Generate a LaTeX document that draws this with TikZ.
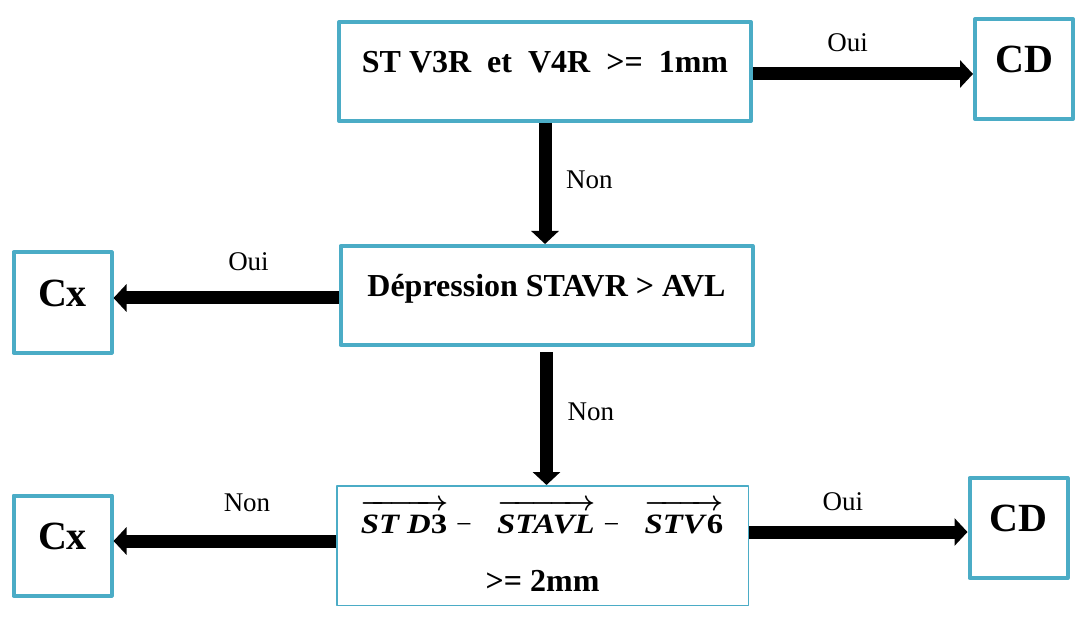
\RequirePackage{fix-cm}
\documentclass[tikz,border=0pt]{standalone}
\usepackage{amsmath}
\usepackage{fontspec}
\setmainfont{Liberation Serif}
\newfontfamily\vecfont[FakeStretch=1.17]{Liberation Serif}
\usetikzlibrary{arrows.meta, positioning}
\definecolor{boxblue}{RGB}{75, 172, 198}
\newcommand{\stvec}[1]{\vbox{\boldmath\offinterlineskip\halign{##\cr
    \rightarrowfill\cr\noalign{\kern4pt}
    \hbox{\vecfont\bfseries\itshape #1\kern1pt}\cr}}}

\begin{document}
\begin{tikzpicture}[x=1pt, y=-1pt,
    box/.style={rectangle, draw=boxblue, line width=4pt, line join=round,
                align=center, inner sep=0pt},
    qbox/.style={box, minimum width=412pt, minimum height=99pt, text height=21pt,
                 text depth=19pt, font=\fontsize{32}{38}\selectfont\bfseries},
    endbox/.style={box, minimum width=98pt, minimum height=100pt, text height=26.5pt,
                   text depth=19pt, font=\fontsize{40}{48}\selectfont\bfseries},
    flow/.style={line width=13pt, -{Triangle[width=27pt, length=13pt]}},
    lbl/.style={inner sep=0pt, outer sep=0pt, font=\fontsize{27}{32}\selectfont}]
    \useasboundingbox (0,0) rectangle (1086,617);

    \node[qbox] (st) at (545, 71.5) {ST V3R~ et~ V4R~ >=~ 1mm};
    \node[qbox] (dep) at (546.5, 295.5) {Dépression STAVR > AVL};
    \node[box, line width=1.5pt, minimum width=411.5pt, minimum height=119.5pt,
          font=\fontsize{28}{58}\selectfont] (cond) at (542.5, 545.5)
        {\stvec{ST D\textup{3}}\hspace{8pt}−\hspace{25pt}\stvec{STAVL}\hspace{8pt}−\hspace{25pt}\stvec{STV\textup{6}}\\
         {\fontsize{32}{58}\selectfont\bfseries >= 2mm}};

    \node[endbox] (cd1) at (1024, 69) {CD};
    \node[endbox] (cx1) at (62.5, 302.5) {Cx};
    \node[endbox] (cx2) at (62.5, 545.5) {Cx};
    \node[endbox] (cd2) at (1018.5, 528) {CD};

    \draw[flow] ([yshift=-2.5pt]st.east) -- node[lbl, above=22pt, pos=0.43]{Oui} ([yshift=-2.5pt]st.east -| cd1.west);
    \draw[flow] (st.south) -- node[lbl, right=21pt, pos=0.47]{Non} (st.south |- dep.north);
    \draw[flow] ([yshift=-2.5pt]dep.west) -- node[lbl, above=27pt, pos=0.40]{Oui} ([yshift=-2.5pt]dep.west -| cx1.east);
    \draw[flow, shorten <=5pt] (dep.south) -- node[lbl, right=21pt, pos=0.47]{Non} (dep.south |- cond.north);
    \draw[flow] ([yshift=4.5pt]cond.west) -- node[lbl, above=29pt, pos=0.40]{Non} ([yshift=4.5pt]cond.west -| cx2.east);
    \draw[flow] ([yshift=-4pt]cd2.west -| cond.east) -- node[lbl, above=21pt, pos=0.43]{Oui} ([yshift=-4pt]cd2.west);
\end{tikzpicture}
\end{document}
